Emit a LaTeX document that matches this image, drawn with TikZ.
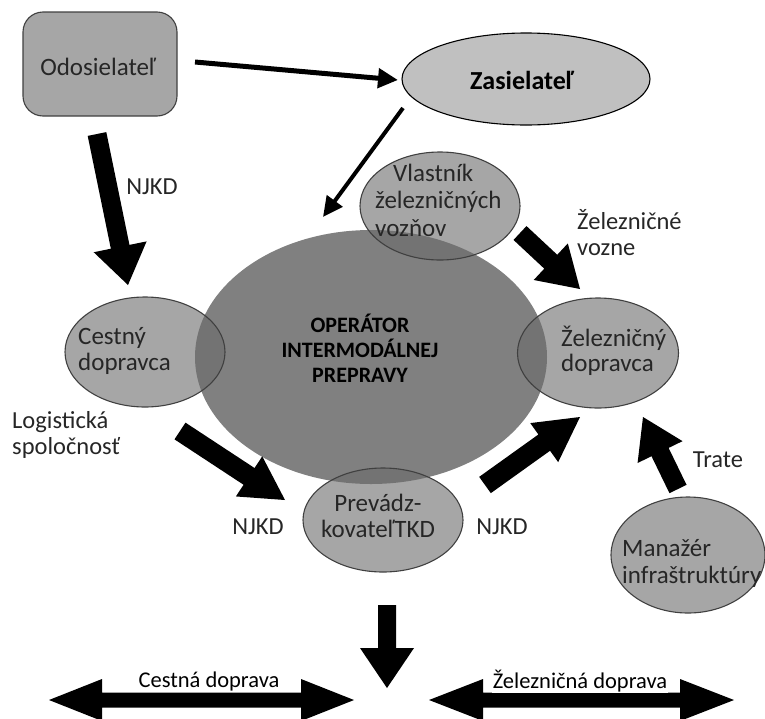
\documentclass[tikz,border=0pt]{standalone}
\usepackage{fontspec}
\setmainfont{Carlito}
\usetikzlibrary{calc,shapes.geometric,arrows.meta}

\definecolor{boxgray}{HTML}{A6A6A6}
\definecolor{zasgray}{HTML}{C0C0C0}
\definecolor{opgray}{HTML}{808080}
\definecolor{ringgray}{HTML}{6B6B6B}
\definecolor{edgegray}{HTML}{404040}
\definecolor{ink}{HTML}{262626}

\tikzset{
  actor/.style={ellipse, inner sep=0pt, fill=ringgray, fill opacity=0.6,
    draw=edgegray, draw opacity=1, line width=1.1pt},
  actortext/.style={inner sep=0pt, text=ink, align=left,
    font=\fontsize{25}{25.5}\selectfont},
  lbl/.style={inner sep=0pt, text=ink, align=left,
    font=\fontsize{24.5}{26}\selectfont},
  modelbl/.style={inner sep=1pt, fill=white, text=black,
    font=\fontsize{22.5}{24}\selectfont},
  thinarrow/.style={line width=5pt, -{Triangle[length=20pt,width=19pt]}},
  fatfill/.style={fill=black},
}

% block arrow: tail, tip, half shaft width, half head width, head length
\newcommand\fatarrow[5]{%
  \coordinate (fa-c) at ($(#2)!#5!(#1)$);
  \fill[fatfill] ($(#1)!#3!90:(#2)$) -- ($(fa-c)!#3!90:(#2)$)
    -- ($(fa-c)!#4!90:(#2)$) -- (#2) -- ($(fa-c)!#4!-90:(#2)$)
    -- ($(fa-c)!#3!-90:(#2)$) -- ($(#1)!#3!-90:(#2)$) -- cycle;
}
% two-headed block arrow: end A, end B, half shaft, half head, head length
\newcommand\fatdouble[5]{%
  \coordinate (fd-a) at ($(#1)!#5!(#2)$);
  \coordinate (fd-b) at ($(#2)!#5!(#1)$);
  \fill[fatfill] (#1) -- ($(fd-a)!#4!90:(#2)$) -- ($(fd-a)!#3!90:(#2)$)
    -- ($(fd-b)!#3!-90:(#1)$) -- ($(fd-b)!#4!-90:(#1)$) -- (#2)
    -- ($(fd-b)!#4!90:(#1)$) -- ($(fd-b)!#3!90:(#1)$)
    -- ($(fd-a)!#3!-90:(#2)$) -- ($(fd-a)!#4!-90:(#2)$) -- cycle;
}

\begin{document}
\begin{tikzpicture}[x=1pt,y=-1pt]
\useasboundingbox (0,0) rectangle (765,718);

% --- top row: sender and forwarder
\node[rectangle, rounded corners=20pt, minimum width=154pt, minimum height=104pt,
      fill=boxgray, draw=edgegray, line width=1.1pt, inner sep=0pt] (odos) at (100,64) {};
\node[text=ink, font=\fontsize{25}{26}\selectfont] (odos-t) at (98,67) {Odosielateľ};

\node[ellipse, minimum width=248pt, minimum height=92pt, inner sep=0pt,
      fill=zasgray, draw=black, line width=1.1pt] (zas) at (526,79) {};
\node[text=black, font=\bfseries\fontsize{26}{30}\selectfont] (zas-t) at (522,80) {Zasielateľ};

% --- central operator and surrounding actors
\node[ellipse, minimum width=352pt, minimum height=254pt, inner sep=0pt, fill=opgray] (op) at (371,357) {};

\node[actor, minimum width=160pt, minimum height=108pt] (vlast) at (440,206) {};
\node[actor, minimum width=160pt, minimum height=110pt] (cest) at (145,352) {};
\node[actor, minimum width=161pt, minimum height=110pt] (zel) at (598,353) {};
\node[actor, minimum width=160pt, minimum height=104pt] (prev) at (383,520) {};
\node[actor, minimum width=154pt, minimum height=116pt] (man) at (688,555) {};

\node[text=black, align=center, inner sep=0pt,
      font=\bfseries\fontsize{22}{25}\selectfont] (op-t) at (360,348)
      {OPERÁTOR\\INTERMODÁLNEJ\\PREPRAVY};
\node[actortext, anchor=west, font=\fontsize{25}{27.5}\selectfont] (vlast-t) at (375,200)
      {\hspace*{18pt}Vlastník\\železničných\\vozňov};
\node[actortext, anchor=west] (cest-t) at (78,351) {Cestný\\dopravca};
\node[actortext, anchor=west] (zel-t) at (561,351) {Železničný\\dopravca};
\node[actortext, align=center] (prev-t) at (378,516) {Prevádz-\\kovateľTKD};
\node[actortext, anchor=west, font=\fontsize{25}{27}\selectfont] (man-t) at (622,563) {Manažér\\infraštruktúry};

% --- thin arrows
\coordinate (a1s) at (195,62);
\coordinate (a1e) at (398,80);
\draw[thinarrow] (a1s) -- (a1e);
\coordinate (a2s) at (403,108);
\coordinate (a2e) at (323,217);
\draw[thinarrow, line width=4pt] (a2s) -- (a2e);

% --- block arrows
\coordinate (b1s) at (97,134);   \coordinate (b1e) at (128,285);
\fatarrow{b1s}{b1e}{9.5pt}{27pt}{39pt}
\coordinate (b2s) at (180,431);  \coordinate (b2e) at (285,500);
\fatarrow{b2s}{b2e}{10pt}{24pt}{43pt}
\coordinate (b3s) at (485,485);  \coordinate (b3e) at (580,417);
\fatarrow{b3s}{b3e}{10pt}{24pt}{44pt}
\coordinate (b4s) at (678,489);  \coordinate (b4e) at (643,417);
\fatarrow{b4s}{b4e}{9.5pt}{25pt}{39pt}
\coordinate (b5s) at (520,233);  \coordinate (b5e) at (580,289);
\fatarrow{b5s}{b5e}{9.5pt}{25pt}{40pt}
\coordinate (b6s) at (387,605);  \coordinate (b6e) at (387,688);
\fatarrow{b6s}{b6e}{9pt}{27pt}{40pt}

% --- modes of transport
\coordinate (road-l) at (49,700);  \coordinate (road-r) at (354,700);
\fatdouble{road-l}{road-r}{7.5pt}{21pt}{53pt}
\coordinate (rail-l) at (429,700); \coordinate (rail-r) at (734,700);
\fatdouble{rail-l}{rail-r}{7.5pt}{21pt}{54pt}
\node[modelbl] (road-t) at (209,681) {Cestná doprava};
\node[modelbl] (rail-t) at (580,681) {Železničná doprava};

% --- flow labels
\node[lbl] (l-njkd1) at (152,187) {NJKD};
\node[lbl, anchor=west] (l-vozne) at (577,233) {Železničné\\vozne};
\node[lbl, anchor=west] (l-log) at (12,435) {Logistická\\spoločnosť};
\node[lbl] (l-njkd2) at (258,527) {NJKD};
\node[lbl] (l-njkd3) at (502,527) {NJKD};
\node[lbl] (l-trate) at (718,460) {Trate};
\end{tikzpicture}
\end{document}
